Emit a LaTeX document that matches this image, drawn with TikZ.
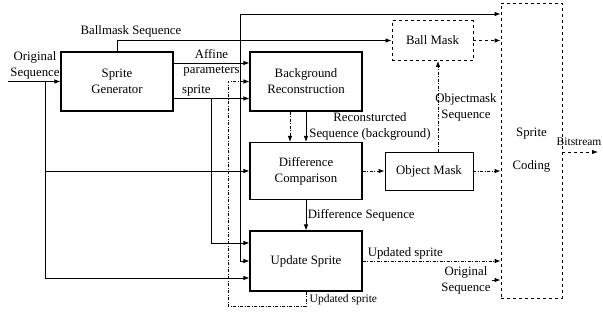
\documentclass[tikz,border=0pt]{standalone}
\usepackage{fontspec}
\setmainfont{Liberation Serif}
\usetikzlibrary{arrows.meta}

\tikzset{
  box/.style={draw, line width=1.1pt, minimum width=112pt, minimum height=59pt, inner sep=0pt, align=center},
  dbox/.style={draw, dashed, line width=0.8pt, inner sep=0pt, align=center},
  lbl/.style={inner sep=1.5pt, align=center},
  dd/.style={dash pattern=on 3pt off 1.6pt on 0.8pt off 1.6pt},
  line/.style={line width=0.8pt, -{Latex[length=6pt,width=4.5pt]}},
}

\begin{document}
\begin{tikzpicture}[x=1pt, y=-1pt, font=\fontsize{12.8}{16}\selectfont]
\useasboundingbox (0,0) rectangle (603,322);
% Nodes
\node[box] (sg) at (117,81.5) {Sprite\\Generator};
\node[box] (br) at (306,81.5) {Background\\Reconstruction};
\node[box, minimum height=57pt] (dc) at (306,171) {Difference\\Comparison};
\node[box, minimum height=60pt] (us) at (306,261) {Update Sprite};
\node[dbox, minimum width=81pt, minimum height=40pt] (bm) at (432.5,40.5) {Ball Mask};
\node[box, line width=0.8pt, minimum width=88pt, minimum height=38pt] (om) at (429,171) {Object Mask};
\node[dbox, minimum width=61pt, minimum height=295pt] (sc) at (531.5,150.5) {Sprite\\[17pt]Coding};
% Labels
\node[lbl] (os) at (35,65) {Original\\Sequence};
\node[lbl] (bmlbl) at (131,31) {Ballmask Sequence};
\node[lbl] (rclbl) at (370,126) {Reconsturcted\\Sequence (background)};
\node[lbl] (omlbl) at (466,107) {Objectmask\\Sequence};
\node[lbl] (os2) at (466,280) {Original\\Sequence};
\node[lbl, anchor=west, font=\fontsize{11.5}{13}\selectfont] (uslbl) at (308,300) {Updated sprite};
\node[lbl, anchor=west, font=\fontsize{11.5}{13}\selectfont] (bslbl) at (555,142) {Bitstream};
% Junctions
\coordinate (osin) at (8,81.5);
\coordinate (j1) at (45,81.5);
\coordinate (j2) at (240,63);
\coordinate (j3) at (211,98.5);
\coordinate (t1) at (240,14);
\coordinate (fb) at (228,306);
\coordinate (bsout) at (598,152);
% Edges
\draw[line] (osin) -- (sg);
\draw[line] (j1) |- (dc.west);
\draw[line] (j1) |- ([yshift=-17pt]us.west);
\draw[line] (sg.north) |- (bm.west);
\draw[line] ([yshift=18.5pt]sg.east) -- node[lbl,above=2.5pt] (afflbl) {Affine} node[lbl,below=1pt] (parlbl) {parameters} ([yshift=18.5pt]br.west);
\draw[line] (j2) -- (t1) -- (t1 -| sc.west);
\draw[line] (j2) |- (us.west);
\draw[line] ([yshift=-17pt]sg.east) -- node[lbl,above,pos=0.3] (splbl) {sprite} ([yshift=-17pt]br.west);
\draw[line] (j3) |- ([yshift=18pt]us.west);
\draw[line] (br) -- (dc);
\draw[line,dd] ([xshift=-16pt]br.south) -- ([xshift=-16pt]dc.north);
\draw[line] (dc) -- node[lbl,right] (dslbl) {Difference Sequence} (us);
\draw[line,dd] (dc) -- (om);
\draw[line,dd] ([xshift=9pt]om.north) -- ([xshift=9pt]om.north |- bm.south);
\draw[line,dashed] (bm.east) -- (bm.east -| sc.west);
\draw[line,dd] (om.east) -- (om.east -| sc.west);
\draw[line,dd] (us.east) -- node[lbl,above,pos=0.31] (uslbl2) {Updated sprite} (us.east -| sc.west);
\draw[line] (os2) -- (os2 -| sc.west);
\draw[line,dashed] (bsout -| sc.east) -- (bsout);
\draw[line,dd] (us.south) |- (fb) |- (br.west);
\end{tikzpicture}
\end{document}
